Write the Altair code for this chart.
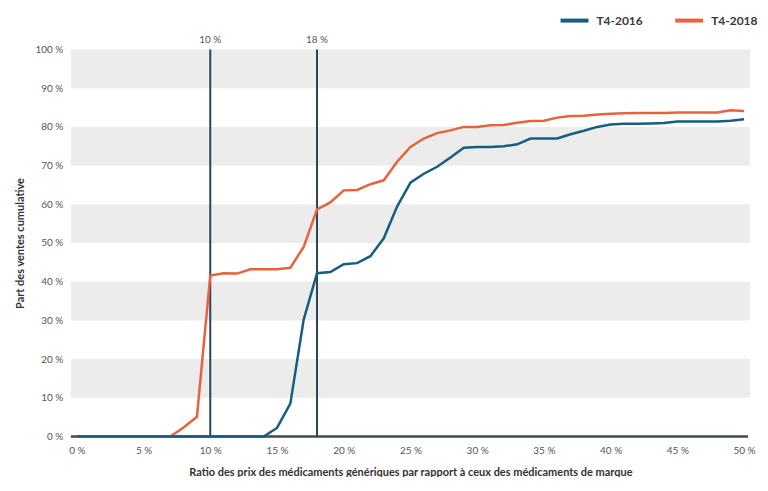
import altair as alt
import pandas as pd

ratio = list(range(51))
t4_2016 = [0, 0, 0, 0, 0, 0, 0, 0, 0, 0,
           0, 0, 0, 0, 0, 2.2, 8.5, 30.2, 42.2, 42.5,
           44.5, 44.8, 46.6, 51.2, 59.4, 65.6, 67.9, 69.7, 72.1, 74.6,
           74.8, 74.8, 75.0, 75.5, 77.0, 77.0, 77.0, 78.1, 79.0, 80.0,
           80.6, 80.8, 80.8, 80.9, 81.0, 81.4, 81.4, 81.4, 81.4, 81.6,
           82.0]
t4_2018 = [0, 0, 0, 0, 0, 0, 0, 0, 2.3, 5.1,
           41.6, 42.2, 42.1, 43.2, 43.2, 43.2, 43.6, 49.0, 58.7, 60.5,
           63.6, 63.7, 65.2, 66.2, 71.0, 74.8, 77.0, 78.4, 79.1, 80.0,
           80.0, 80.4, 80.5, 81.1, 81.5, 81.6, 82.4, 82.8, 82.9, 83.2,
           83.4, 83.5, 83.6, 83.6, 83.6, 83.7, 83.7, 83.7, 83.7, 84.3,
           84.1]
series = ["T4-2016", "T4-2018"]
colors = ["#175d80", "#e8633d"]
bands_lo = [10, 30, 50, 70, 90]
bands_hi = [20, 40, 60, 80, 100]
ref_lines = [10, 18]
ref_labels = ["10 %", "18 %"]
x_ticks = [0, 5, 10, 15, 20, 25, 30, 35, 40, 45, 50]
y_ticks = [0, 10, 20, 30, 40, 50, 60, 70, 80, 90, 100]

df16 = pd.DataFrame({"ratio": ratio, "part": t4_2016, "serie": series[0]})
df18 = pd.DataFrame({"ratio": ratio, "part": t4_2018, "serie": series[1]})

W, H = 669, 388
xscale = alt.Scale(domain=[0, 50], nice=False, zero=False)
yscale = alt.Scale(domain=[0, 100], nice=False)
color = alt.Color(
    "serie:N",
    scale=alt.Scale(domain=series, range=colors),
    legend=alt.Legend(
        title=None, orient="none", legendX=483, legendY=-45,
        direction="horizontal", symbolType="stroke", symbolSize=784,
        symbolStrokeWidth=4, labelFontSize=12, labelFontWeight="bold",
        labelColor="#3a3a3a", columnPadding=24, labelOffset=6,
    ),
)

YTITLE = "Part des ventes cumulative"
XTITLE = "Ratio des prix des médicaments génériques par rapport à ceux des médicaments de marque"
yaxis = alt.Axis(
    values=y_ticks, labelExpr="datum.value + ' %'",
    title=YTITLE, domain=False, ticks=False,
    grid=False, labelPadding=14, titlePadding=9, labelOverlap=False,
    labelFlush=False,
)
xaxis = alt.Axis(
    values=x_ticks, labelExpr="datum.value + ' %'",
    title=XTITLE,
    domain=False, ticks=False, grid=False, labelPadding=9, titlePadding=11,
    labelFlush=False, labelOverlap=False,
)

bands = alt.Chart(pd.DataFrame({"lo": bands_lo, "hi": bands_hi})).mark_rect(
    color="#ececec"
).encode(
    x=alt.value(-6), x2=alt.value(675),
    y=alt.Y("lo:Q", scale=yscale, axis=yaxis, title=YTITLE),
    y2="hi:Q",
)

baseline = alt.Chart(pd.DataFrame({"y": [0]})).mark_rule(
    color="#3e4a52", strokeWidth=2.5
).encode(y=alt.Y("y:Q", scale=yscale, axis=yaxis, title=YTITLE),
         x=alt.value(-6), x2=alt.value(673))

refdf = pd.DataFrame({"v": ref_lines, "label": ref_labels})
refs = alt.Chart(refdf).mark_rule(color="#2c4352", strokeWidth=2).encode(
    x=alt.X("v:Q", scale=xscale, axis=xaxis, title=XTITLE),
    y=alt.value(0), y2=alt.value(H)
)
reftext = alt.Chart(refdf).mark_text(
    baseline="middle", fontSize=10, color="#555555"
).encode(x=alt.X("v:Q", scale=xscale, axis=xaxis, title=XTITLE),
         y=alt.value(-10), text="label:N")

line18 = alt.Chart(df18).mark_line(strokeWidth=2.5).encode(
    x=alt.X("ratio:Q", scale=xscale, axis=xaxis, title=XTITLE),
    y=alt.Y("part:Q", scale=yscale, axis=yaxis, title=YTITLE),
    color=color,
)
line16 = alt.Chart(df16).mark_line(strokeWidth=2.5).encode(
    x=alt.X("ratio:Q", scale=xscale, axis=xaxis, title=XTITLE),
    y=alt.Y("part:Q", scale=yscale, axis=yaxis, title=YTITLE),
    color=color,
)

chart = alt.layer(bands, baseline, refs, reftext, line18, line16).properties(
    width=W, height=H,
    autosize=alt.AutoSizeParams(type="none"),
    padding={"left": 69, "top": 41, "right": 16, "bottom": 40},
).configure(font="Lato").configure_axis(
    labelFontSize=10, labelColor="#555555", titleFontSize=11,
    titleFontWeight="bold", titleColor="#333333",
).configure_view(stroke=None)

chart.save("out.html", embed_options={"renderer": "svg", "actions": False})
